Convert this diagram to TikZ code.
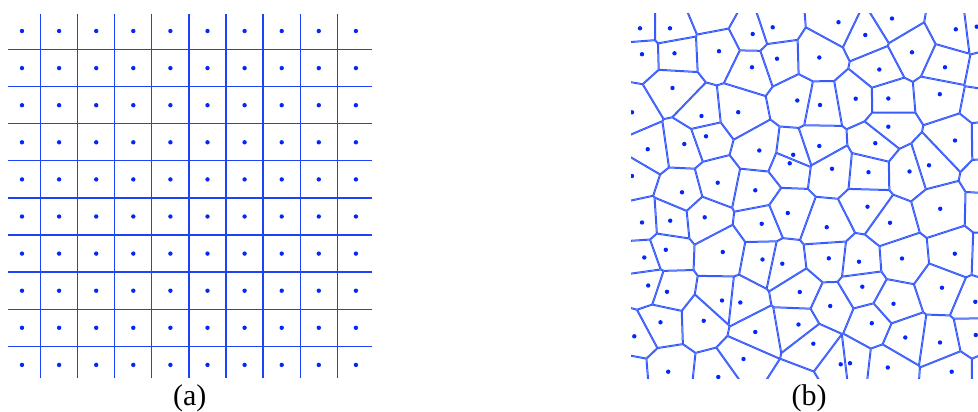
\documentclass[tikz,border=0pt]{standalone}
\usepackage{fontspec}
\setmainfont{Liberation Serif}
\usetikzlibrary{calc}
\definecolor{gridblue}{RGB}{30,65,250}
\definecolor{dotblue}{RGB}{5,40,250}
\definecolor{cellblue}{RGB}{55,90,250}
\tikzset{
  gridline/.style={draw=gridblue,line width=1.3pt},
  celledge/.style={draw=cellblue,line width=2pt},
  seed/.style={fill=dotblue},
  caption/.style={font=\fontsize{30}{36}\selectfont,anchor=base,inner sep=0pt}
}
\def\vseeds{640/28.3,670/28.3,752.7/34,772.7/27.3,838.5/22.2,892/18.5,865.3/35,955.8/29.3,976.7/26.7,%
642/54.2,674.5/53.3,719/51.2,752/67.3,777/58.7,819.3/57.5,912/52.3,879.3/69.5,945/67.3,672.5/88,%
632/112.3,701.5/116,738.2/112.2,797.3/100.5,820/105,855.7/98.7,888.3/98.5,939.8/94.2,%
647.7/149.2,684.3/144,706/136.3,759.3/150.5,793.2/154.8,789.7/163.3,819.3/146,875.3/143.2,888.3/126.7,%
955/140.5,929/165.3,909.5/171.5,868.5/172.2,832/168.8,%
717.7/182.7,755.3/190.3,682/192.3,632/176,642/222.5,670.2/220.7,704.7/217.3,761.7/223.8,787.8/213,%
826.7/227.2,867.5/206.7,890/222.8,940.2/208.8,%
644.3/257.5,665.8/249.8,722.8/252,762.5/259.5,782.3/263.7,828.8/258.3,859/261.7,902/258.5,954.8/253.7,%
648.2/285.5,667/291.8,722/300.5,740.3/302.5,799.8/292,862.3/286.7,942/287.7,975.3/301.8,830.2/306,893.5/303.8,%
660.5/322.3,703.7/320.8,634.3/336.3,755.3/332,798.5/324.5,813.3/343.7,871.8/323.2,905.3/337.5,940/342.5,975.8/335,%
743.5/359,840.7/364.3,850/363.2,887.8/367.5,951.7/371.7,668.2/371.7,718.3/377}
\def\oseeds{711.4/11,627/375,989/76,985/103,989/140,992/177,990/210,990/255,992/372,795/392}
\edef\allseeds{\vseeds,\oseeds}
\def\nbrad{80}
\def\halflen{300}

\begin{document}
\begin{tikzpicture}[x=1pt,y=-1pt]
  \useasboundingbox (0,0) rectangle (978,412);
  % (a) square lattice
  \foreach \k in {0,...,8}{
    \draw[gridline] ({40.5+37.1*\k},14) -- ({40.5+37.1*\k},378);
    \draw[gridline] (8,{49.5+37.1*\k}) -- (372,{49.5+37.1*\k});
  }
  \foreach \i in {0,...,9}
    \foreach \j in {0,...,9}
      \fill[seed] ({22+37.1*\i},{31+37.1*\j}) circle[radius=2.2pt];
  \node[caption] (capa) at (189.7,405) {(a)};

  % (b) voronoi cells
  \begin{scope}
    \clip (631,14) rectangle (978,378);
    \foreach \xi/\yi in \allseeds {
      \begin{scope}
        \gdef\edgepath{}
        \foreach \xj/\yj in \allseeds {
          \pgfmathtruncatemacro{\near}{(abs(\xi-\xj)<\nbrad)*(abs(\yi-\yj)<\nbrad)}
          \ifnum\near=1
            \pgfmathsetmacro{\dd}{veclen(\xi-\xj,\yi-\yj)}
            \pgfmathtruncatemacro{\ok}{\dd>0.01}
            \ifnum\ok=1
              \pgfmathsetmacro{\nx}{(\xi-\xj)/\dd}
              \pgfmathsetmacro{\ny}{(\yi-\yj)/\dd}
              \pgfmathsetmacro{\ax}{(\xi+\xj)/2-\halflen*\ny}
              \pgfmathsetmacro{\ay}{(\yi+\yj)/2+\halflen*\nx}
              \pgfmathsetmacro{\bx}{(\xi+\xj)/2+\halflen*\ny}
              \pgfmathsetmacro{\by}{(\yi+\yj)/2-\halflen*\nx}
              \clip (\ax,\ay) -- ++({\halflen*\nx},{\halflen*\ny}) -- ++({2*\halflen*\ny},{-2*\halflen*\nx}) -- (\bx,\by) -- cycle;
              \xdef\edgepath{\edgepath (\ax,\ay) -- (\bx,\by)}
            \fi
          \fi
        }
        \edef\celldraw{\noexpand\draw[celledge] \edgepath;}
        \celldraw
      \end{scope}
    }
    \foreach \xi/\yi in \vseeds
      \fill[seed] (\xi,\yi) circle[radius=2.2pt];
  \end{scope}
  \node[caption] (capb) at (809,405) {(b)};
\end{tikzpicture}
\end{document}
